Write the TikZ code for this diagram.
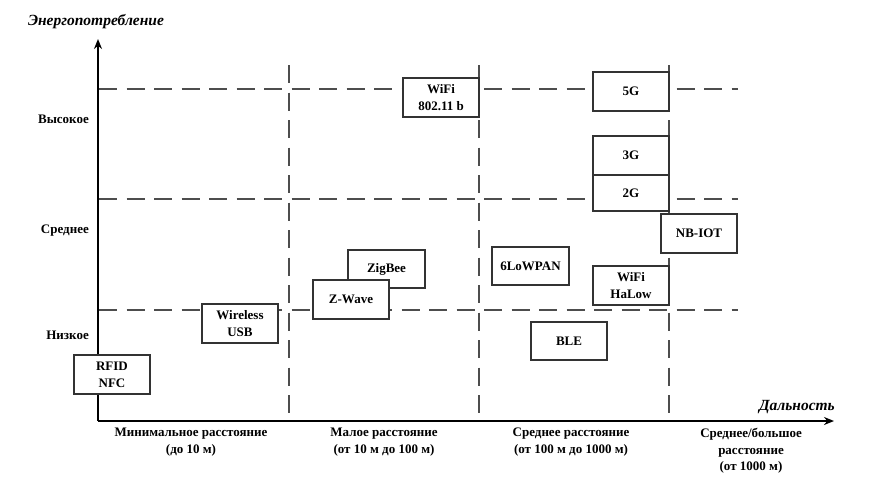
\documentclass[tikz,border=0pt]{standalone}
\usepackage{fontspec}
\setmainfont{Liberation Serif}
\usetikzlibrary{arrows.meta}
\definecolor{boxline}{HTML}{333333}
\definecolor{gridline}{HTML}{4D4D4D}
\tikzset{
  tbox/.style={draw=boxline, line width=1.2pt, fill=white, align=center, inner sep=0pt,
    minimum width=76pt, minimum height=39pt, font=\fontsize{13}{16.7}\selectfont\bfseries},
  grid/.style={draw=gridline, line width=1.3pt, dash pattern=on 18pt off 9.5pt},
  axis/.style={draw=black, line width=2pt, -{Stealth[length=10pt,width=8pt]}},
  lbl/.style={align=center, inner sep=0pt, font=\fontsize{13}{16.7}\selectfont\bfseries},
  atitle/.style={inner sep=0pt, font=\fontsize{15.5}{17}\selectfont\bfseries\itshape}
}
\begin{document}
\begin{tikzpicture}[x=1pt,y=-1pt]
\useasboundingbox (0,0) rectangle (874,482);
% grid
\coordinate (O) at (98,421);
\coordinate (yt) at (98,39);
\coordinate (xt) at (834,421);
\coordinate (h1a) at (99,89);  \coordinate (h1b) at (738,89);
\coordinate (h2a) at (99,199); \coordinate (h2b) at (738,199);
\coordinate (h3a) at (99,310); \coordinate (h3b) at (738,310);
\coordinate (v1a) at (289,65); \coordinate (v1b) at (289,421);
\coordinate (v2a) at (479,65); \coordinate (v2b) at (479,421);
\coordinate (v3a) at (669,65); \coordinate (v3b) at (669,421);
\draw[grid] (h1a) -- (h1b);
\draw[grid] (h2a) -- (h2b);
\draw[grid] (h3a) -- (h3b);
\draw[grid] (v1a) -- (v1b);
\draw[grid] (v2a) -- (v2b);
\draw[grid] (v3a) -- (v3b);
% axes
\draw[axis] (O) -- (yt);
\draw[axis] (O) -- (xt);
% boxes
\node[tbox] (wifi) at (441,97.5) {WiFi\\802.11 b};
\node[tbox, minimum width=77pt, minimum height=38pt] (zigbee) at (386.5,269) {ZigBee};
\node[tbox] (zwave) at (351,299.5) {Z-Wave};
\node[tbox, minimum width=77pt, minimum height=38pt] (lowpan) at (530.5,266) {6LoWPAN};
\node[tbox, minimum height=38pt] (ble) at (569,341) {BLE};
\node[tbox] (g5) at (631,91.5) {5G};
\node[tbox] (g3) at (631,155.5) {3G};
\node[tbox, minimum height=36pt] (g2) at (631,193) {2G};
\node[tbox] (nbiot) at (699,233.5) {NB-IOT};
\node[tbox] (halow) at (631,285.5) {WiFi\\HaLow};
\node[tbox] (wusb) at (240,323.5) {Wireless\\USB};
\node[tbox] (rfid) at (112,374.5) {RFID\\NFC};
% axis titles
\node[atitle] (ytitle) at (96,22) {Энергопотребление};
\node[atitle, anchor=east] (xtitle) at (835,407) {Дальность};
% level labels
\node[lbl, anchor=east] (hi) at (89,119) {Высокое};
\node[lbl, anchor=east] (mid) at (89,231) {Среднее};
\node[lbl, anchor=east] (lo) at (89,335) {Низкое};
% range labels
\node[lbl, anchor=north] (r1) at (191,428) {Минимальное расстояние\\(до 10 м)};
\node[lbl, anchor=north] (r2) at (384,428) {Малое расстояние\\(от 10 м до 100 м)};
\node[lbl, anchor=north] (r3) at (571,428) {Среднее расстояние\\(от 100 м до 1000 м)};
\node[lbl, anchor=north] (r4) at (751,428) {Среднее/большое\\расстояние\\(от 1000 м)};
\end{tikzpicture}
\end{document}
